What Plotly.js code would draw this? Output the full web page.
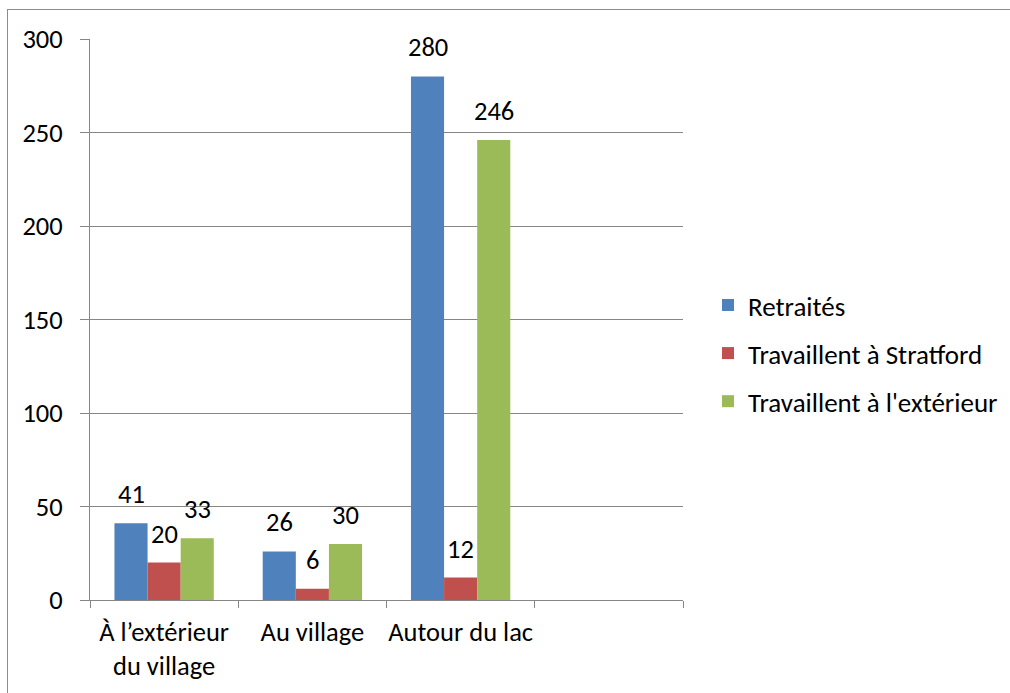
<!DOCTYPE html>
<html><head><meta charset="utf-8">
<script src="https://cdn.plot.ly/plotly-3.0.1.min.js"></script>
<style>
html,body{margin:0;padding:0;background:#fff;}
#frame{position:absolute;left:7px;top:9px;width:1010px;height:700px;border:1px solid #8c8c8c;box-sizing:border-box;}
#chart{position:absolute;left:0;top:0;width:1010px;height:693px;}
</style>
</head><body>
<div id="frame"></div>
<div id="chart"></div>
<script>
const categories = ["À l’extérieur<br>du village", "Au village", "Autour du lac", " "];
const seriesNames = ["Retraités", "Travaillent à Stratford", "Travaillent à l'extérieur"];
const retraites = [41, 26, 280, null];
const stratford = [20, 6, 12, null];
const exterieur = [33, 30, 246, null];
const colors = ["#4F81BD", "#C0504D", "#9BBB59"];
const values = [retraites, stratford, exterieur];

const font = "Carlito, Calibri, Lato, 'Open Sans', sans-serif";
const fs = 26.5;
const traces = values.map((v, i) => ({
  type: "bar",
  name: seriesNames[i],
  x: categories,
  y: v,
  marker: {color: colors[i]},
  legendgroup: "g" + i
}));

const barPx = 148 * (1 - 0.33) / 3;
const annotations = [];
values.forEach((v, i) => {
  v.forEach((d, j) => {
    if (d == null) return;
    annotations.push({
      x: categories[j], y: d, xref: "x", yref: "y",
      text: String(d), showarrow: false,
      xanchor: "center", yanchor: "bottom",
      xshift: (i - 1) * barPx, yshift: 11,
      font: {family: font, size: fs, color: "#000"}
    });
  });
});

const layout = {
  width: 1010, height: 693,
  margin: {l: 90, r: 327, t: 39, b: 93},
  paper_bgcolor: "rgba(0,0,0,0)",
  plot_bgcolor: "rgba(0,0,0,0)",
  barmode: "group",
  bargap: 0.33,
  bargroupgap: 0,
  font: {family: font, size: fs, color: "#000"},
  annotations: annotations,
  xaxis: {
    type: "category",
    tickson: "boundaries",
    tickangle: 0,
    automargin: false,
    ticks: "outside", ticklen: 7, tickcolor: "#868686", tickwidth: 1,
    showline: true, linecolor: "#868686", linewidth: 1,
    showgrid: false,
    tickfont: {family: font, size: fs, color: "#000"},
    ticklabelstandoff: 8
  },
  yaxis: {
    range: [0, 300], dtick: 50, tick0: 0,
    automargin: false,
    ticks: "outside", ticklen: 9, tickcolor: "#868686", tickwidth: 1,
    showline: true, linecolor: "#868686", linewidth: 1,
    showgrid: true, gridcolor: "#868686", gridwidth: 1,
    zeroline: false,
    tickfont: {family: font, size: fs, color: "#000"},
    ticklabelstandoff: 12
  },
  showlegend: true,
  legend: {
    xref: "container", yref: "container",
    x: 0.701, xanchor: "left", y: 0.49, yanchor: "middle",
    font: {family: font, size: 27, color: "#000"},
    traceorder: "grouped", tracegroupgap: 10,
    itemwidth: 30, bgcolor: "rgba(0,0,0,0)"
  }
};

Plotly.newPlot("chart", traces, layout, {displayModeBar: false, staticPlot: true});
</script>
</body></html>
